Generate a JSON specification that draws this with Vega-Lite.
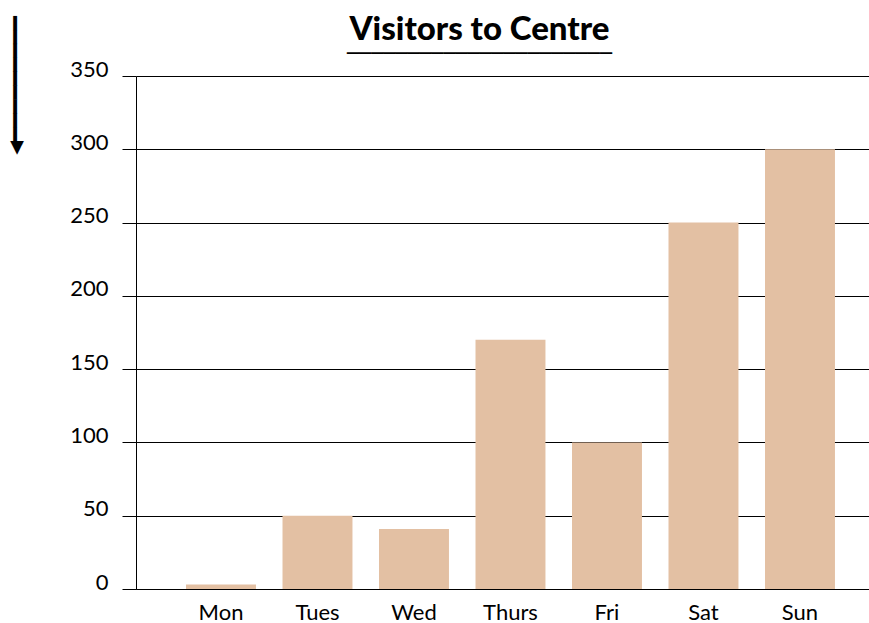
{
  "$schema": "https://vega.github.io/schema/vega-lite/v6.json",
  "autosize": {"type": "none"},
  "padding": {"left": 136, "top": 76, "right": 0, "bottom": 34},
  "width": 733,
  "height": 513,
  "background": "white",
  "title": {
    "text": "Visitors to Centre",
    "subtitle": "──────────────────────",
    "font": "Lato",
    "fontSize": 33,
    "fontWeight": 900,
    "color": "#000000",
    "subtitleFont": "DejaVu Sans Mono",
    "subtitleFontSize": 20,
    "subtitleColor": "#000000",
    "subtitlePadding": -3,
    "anchor": "middle",
    "frame": "group",
    "dx": -23,
    "offset": -48
  },
  "data": {
    "values": [
      {"day": "Mon", "visitors": 3},
      {"day": "Tues", "visitors": 50},
      {"day": "Wed", "visitors": 41},
      {"day": "Thurs", "visitors": 170},
      {"day": "Fri", "visitors": 100},
      {"day": "Sat", "visitors": 250},
      {"day": "Sun", "visitors": 300}
    ]
  },
  "mark": {"type": "bar", "color": "#E3C0A3"},
  "encoding": {
    "x": {
      "field": "day",
      "type": "nominal",
      "sort": null,
      "scale": {"paddingInner": 0.275, "paddingOuter": 0.4355, "align": 0.595},
      "axis": {
        "title": null,
        "labelAngle": 0,
        "ticks": false,
        "labelFont": "Lato",
        "labelFontSize": 22,
        "labelColor": "#000000",
        "labelPadding": 13,
        "domainColor": "#000000",
        "domainWidth": 1,
        "grid": false
      }
    },
    "y": {
      "field": "visitors",
      "type": "quantitative",
      "scale": {"domain": [0, 350], "nice": false},
      "axis": {
        "values": [0, 50, 100, 150, 200, 250, 300, 350],
        "title": "◀━━━━━━━━━",
        "titleFont": "DejaVu Sans Mono",
        "titleFontSize": 23,
        "titleFontWeight": "normal",
        "titleColor": "#000000",
        "titleX": -121,
        "titleY": 9,
        "titleAngle": 270,
        "titleAlign": "center",
        "titleBaseline": "middle",
        "labelFont": "Lato",
        "labelFontSize": 22,
        "labelColor": "#000000",
        "labelBaseline": "alphabetic",
        "labelPadding": 14,
        "tickSize": 14,
        "tickColor": "#000000",
        "domainColor": "#000000",
        "grid": true,
        "gridColor": "#000000",
        "gridOpacity": 1
      }
    }
  },
  "config": {"view": {"stroke": null}}
}
